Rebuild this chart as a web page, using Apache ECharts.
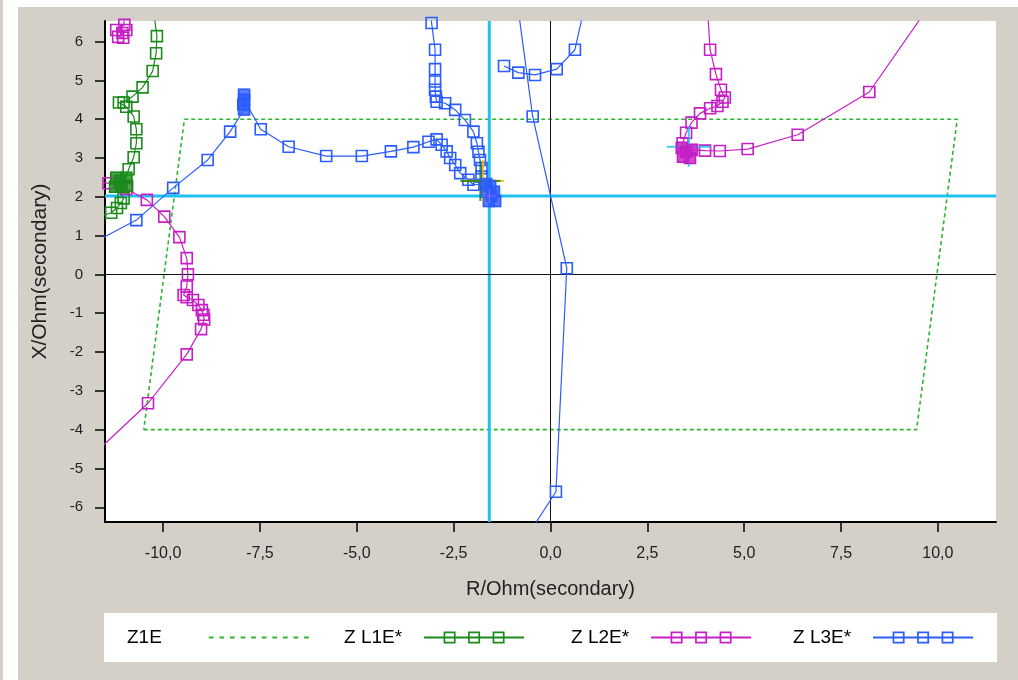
<!DOCTYPE html>
<html>
<head>
<meta charset="utf-8">
<script src="https://cdn.jsdelivr.net/npm/echarts@6/dist/echarts.min.js"></script>
<style>
  html, body { margin: 0; padding: 0; background: #d4d0c8; }
  #chart { width: 1018px; height: 680px; }
</style>
</head>
<body>
<div id="chart"></div>
<script>
// Axis ranges and tick labels (R and X in secondary ohms)
const rRange = [-11.5, 11.5];
const xRange = [-6.38, 6.53];
const rTicks = [-10, -7.5, -5, -2.5, 0, 2.5, 5, 7.5, 10];
const xTicks = [-6, -5, -4, -3, -2, -1, 0, 1, 2, 3, 4, 5, 6];

// Zone 1 ground polygon (closed)
const z1eZone = [[-10.5, -4], [9.45, -4], [10.5, 4], [-9.45, 4], [-10.5, -4]];

// Measuring cursor
const cursorR = -1.58;
const cursorX = 2.02;

// Loop impedance trajectories, '-' breaks a trace
const zL1E = [
  [-10.3, 7.2], [-10.16, 6.14], [-10.18, 5.70], [-10.27, 5.24], [-10.53, 4.82], [-10.79, 4.58],
  [-11.02, 4.43], [-11.14, 4.43], [-10.95, 4.32], [-10.76, 4.07], [-10.69, 3.74], [-10.69, 3.38],
  [-10.76, 3.02], [-10.89, 2.71], [-10.95, 2.49], [-11.21, 2.49], [-11.11, 2.41], [-10.93, 2.28],
  [-11.08, 2.26], [-11.24, 2.26], [-11.02, 1.96], [-11.09, 1.84], [-11.19, 1.71], [-11.34, 1.59],
  [-12.5, 1.2]
];
const zL1EDense = [[-10.95, 2.49], [-11.21, 2.49], [-11.11, 2.41], [-10.93, 2.28], [-11.08, 2.26], [-11.24, 2.26]];

const zL2E = [
  [-11.1, 7.2], [-11.0, 6.43], [-11.21, 6.30], [-11.05, 6.22], [-10.95, 6.30], [-11.16, 6.12], [-11.03, 6.10],
  '-',
  [-12.5, 2.5], [-11.41, 2.35], [-10.95, 2.2], [-10.42, 1.92], [-9.97, 1.49], [-9.58, 0.96],
  [-9.39, 0.42], [-9.36, 0.0], [-9.39, -0.31], [-9.47, -0.53], [-9.39, -0.59], [-9.23, -0.66],
  [-9.09, -0.79], [-9.0, -0.92], [-8.96, -1.04], [-8.94, -1.16], [-9.02, -1.41], [-9.39, -2.06],
  [-10.39, -3.32], [-12.5, -5.3],
  '-',
  [4.05, 6.9], [4.12, 5.79], [4.27, 5.16], [4.40, 4.76], [4.50, 4.56], [4.44, 4.45], [4.31, 4.34],
  [4.12, 4.28], [3.86, 4.15], [3.64, 3.91], [3.50, 3.65], [3.41, 3.38], [3.39, 3.26], [3.50, 3.16],
  [3.42, 3.03], [3.60, 3.00], [3.65, 3.21], [3.99, 3.19], [4.37, 3.18], [5.09, 3.23], [6.38, 3.60],
  [8.23, 4.70], [9.8, 6.95]
];
const zL2EDense = [[3.39, 3.26], [3.65, 3.21], [3.42, 3.03], [3.60, 3.00], [3.50, 3.16]];

const zL3E = [
  [-12.5, 0.45], [-10.69, 1.40], [-9.74, 2.23], [-8.85, 2.95], [-8.27, 3.68], [-7.91, 4.25],
  [-7.91, 4.63], [-7.93, 4.38], [-7.91, 4.50], [-7.48, 3.74], [-6.76, 3.29], [-5.79, 3.05],
  [-4.87, 3.05], [-4.12, 3.17], [-3.54, 3.28], [-3.15, 3.42], [-2.94, 3.48], [-2.81, 3.34],
  [-2.68, 3.17], [-2.59, 3.00], [-2.46, 2.82], [-2.33, 2.61], [-2.12, 2.44], [-1.99, 2.31],
  [-1.66, 2.33], [-1.56, 2.28], [-1.46, 2.13], [-1.43, 1.89], [-1.59, 1.89], [-1.64, 2.13],
  [-1.78, 2.52], [-1.78, 2.74], [-1.82, 2.95], [-1.86, 3.16], [-1.90, 3.38], [-1.99, 3.68],
  [-2.21, 3.98], [-2.46, 4.24], [-2.72, 4.41], [-2.94, 4.45], [-2.96, 4.58], [-2.98, 4.76],
  [-2.98, 4.97], [-2.98, 5.29], [-2.98, 5.79], [-3.07, 6.48], [-3.1, 7.2],
  '-',
  [-1.20, 5.37], [-0.83, 5.20], [-0.40, 5.14], [0.16, 5.29], [0.63, 5.79], [0.88, 6.9],
  '-',
  [-0.85, 6.95], [-0.46, 4.07], [0.42, 0.16], [0.14, -5.60], [-0.64, -6.8]
];
const zL3EDense = [[-1.66, 2.33], [-1.56, 2.28], [-1.46, 2.13], [-1.43, 1.89], [-1.59, 1.89], [-1.64, 2.13], [-1.52, 2.02]];
const zL3EHump = [[-7.91, 4.25], [-7.91, 4.63], [-7.93, 4.38], [-7.91, 4.50]];

// Cross markers of the evaluated points
const crossCyan = [[3.57, 3.29]];
const crossOrange = [[-1.74, 2.41]];
const crossGreen = [[-1.81, 2.41]];
const crossPink = [[-1.58, 2.02]];

const C_GREEN = '#1b8b1b';
const C_MAGENTA = '#c61fc6';
const C_BLUE = '#2a5cff';
const C_ZONE = '#2db52d';
const C_CYAN = '#1cc2f0';
const FONT = 'Liberation Sans, Arial, sans-serif';

function squaresIcon() {
  let p = 'M0,5H100V7H0Z';
  [19.5, 44, 68.5].forEach(function (x) {
    p += 'M' + x + ',0H' + (x + 12) + 'V12H' + x + 'Z';
    p += 'M' + (x + 1.7) + ',1.7V10.3H' + (x + 10.3) + 'V1.7Z';
  });
  return 'path://' + p;
}
function dashIcon() {
  let p = '';
  for (let x = 0; x <= 90; x += 10) p += 'M' + x + ',0H' + (x + 4.5) + 'V1.8H' + x + 'Z';
  return 'path://' + p;
}
const crossPath = 'path://M0,19H40V21H0Z M19,0H21V40H19Z';

function traceSeries(name, data, color) {
  return {
    name: name, type: 'line', data: data, z: 5,
    symbol: 'rect', symbolSize: 11,
    itemStyle: { color: 'rgba(0,0,0,0)', borderColor: color, borderWidth: 1.6 },
    lineStyle: { color: color, width: 1.2 },
    connectNulls: false, clip: true, silent: true
  };
}
function denseSeries(data, color, z) {
  return {
    type: 'scatter', data: data, z: z || 7, symbol: 'rect', symbolSize: 11,
    itemStyle: { color: color, borderColor: color, borderWidth: 1 }, silent: true
  };
}
function crossSeries(data, color, size, z) {
  return {
    type: 'scatter', data: data, z: z || 6, symbol: crossPath, symbolSize: size,
    symbolKeepAspect: false, itemStyle: { color: color }, silent: true
  };
}
function legendFor(name, icon, color, left, extraPad) {
  return {
    left: left, top: 628, padding: 0, align: 'right', itemWidth: 100, itemHeight: 12,
    selectedMode: false,
    data: [{ name: name, icon: icon, itemStyle: { color: color, borderWidth: 0 } }],
    textStyle: { fontFamily: FONT, fontSize: 19, color: '#000', padding: [0, extraPad, 0, 0] }
  };
}

const chart = echarts.init(document.getElementById('chart'), null, { renderer: 'canvas' });
chart.setOption({
  animation: false,
  backgroundColor: '#d4d0c8',
  graphic: [
    { type: 'rect', left: 3, top: 0, shape: { width: 15, height: 680 }, style: { fill: '#ffffff' }, z: -10 },
    { type: 'rect', left: 18, top: 0, shape: { width: 1000, height: 7 }, style: { fill: '#ffffff' }, z: -10 },
    { type: 'rect', left: 104, top: 613, shape: { width: 893, height: 49 }, style: { fill: '#ffffff' }, z: -10 }
  ],
  grid: { left: 105, right: 22, top: 21, bottom: 158, show: true, backgroundColor: '#ffffff', borderWidth: 0 },
  xAxis: {
    type: 'value', min: rRange[0], max: rRange[1],
    name: 'R/Ohm(secondary)', nameLocation: 'middle', nameGap: 57,
    nameTextStyle: { fontFamily: FONT, fontSize: 20, color: '#222' },
    axisLine: { show: true, onZero: false, lineStyle: { color: '#000', width: 2 } },
    axisTick: { show: true, inside: false, length: 10, customValues: rTicks, lineStyle: { color: '#000', width: 1.5 } },
    axisLabel: {
      customValues: rTicks, margin: 24, fontFamily: FONT, fontSize: 16, color: '#222',
      formatter: function (v) { return v.toFixed(1).replace('.', ','); }
    },
    splitLine: { show: false }
  },
  yAxis: {
    type: 'value', min: xRange[0], max: xRange[1],
    name: 'X/Ohm(secondary)', nameLocation: 'middle', nameGap: 54,
    nameTextStyle: { fontFamily: FONT, fontSize: 21, color: '#222' },
    axisLine: { show: true, onZero: false, lineStyle: { color: '#000', width: 2 } },
    axisTick: { show: true, inside: false, length: 10, customValues: xTicks, lineStyle: { color: '#000', width: 1.5 } },
    axisLabel: {
      customValues: xTicks, margin: 22, fontFamily: FONT, fontSize: 15, color: '#222',
      formatter: function (v) { return String(v); }
    },
    splitLine: { show: false }
  },
  legend: [
    legendFor('Z1E', dashIcon(), C_ZONE, 127, 42),
    legendFor('Z L1E*', squaresIcon(), C_GREEN, 344, 17),
    legendFor('Z L2E*', squaresIcon(), C_MAGENTA, 571, 17),
    legendFor('Z L3E*', squaresIcon(), C_BLUE, 793, 17)
  ],
  series: [
    {
      name: 'Z1E', type: 'line', data: z1eZone, z: 2, symbol: 'none', silent: true,
      lineStyle: { color: C_ZONE, width: 1.6, type: [4, 3] },
      itemStyle: { color: C_ZONE },
      markLine: {
        silent: true, symbol: 'none', label: { show: false },
        lineStyle: { color: '#111', width: 1, type: 'solid' },
        data: [{ xAxis: 0 }, { yAxis: 0 }]
      }
    },
    {
      type: 'line', z: 3, symbol: 'none', silent: true,
      data: [[cursorR, xRange[0]], [cursorR, xRange[1]], '-', [rRange[0], cursorX], [rRange[1], cursorX]],
      lineStyle: { color: C_CYAN, width: 3 }
    },
    traceSeries('Z L1E*', zL1E, C_GREEN),
    traceSeries('Z L2E*', zL2E, C_MAGENTA),
    traceSeries('Z L3E*', zL3E, C_BLUE),
    denseSeries(zL1EDense, C_GREEN),
    denseSeries(zL2EDense, C_MAGENTA),
    denseSeries(zL3EHump, C_BLUE, 6),
    crossSeries(crossCyan, C_CYAN, [44, 40]),
    crossSeries(crossOrange, '#ffb000', 42),
    crossSeries(crossGreen, '#128012', 40),
    denseSeries(zL3EDense, C_BLUE, 8),
    crossSeries(crossPink, '#ff80e0', 14, 9)
  ]
});
</script>
</body>
</html>
